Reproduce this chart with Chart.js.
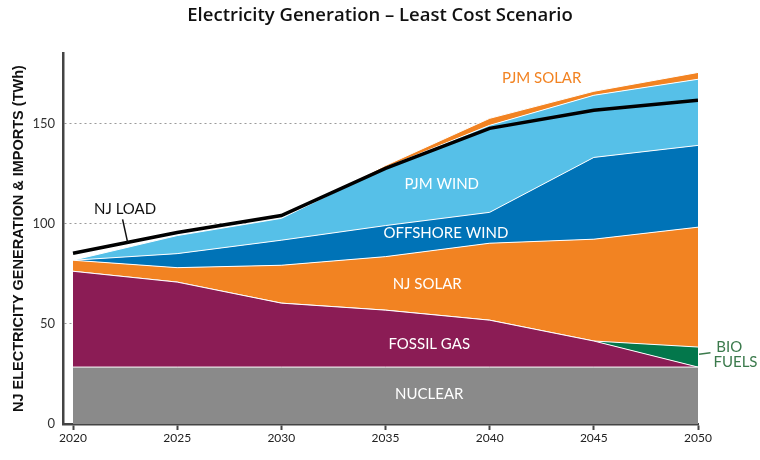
<!DOCTYPE html>
<html>
<head>
<meta charset="utf-8">
<script src="https://cdn.jsdelivr.net/npm/chart.js@4.4.1/dist/chart.umd.min.js"></script>
<style>
  html, body { margin: 0; padding: 0; background: #fff; }
  #wrap { width: 760px; height: 460px; position: relative; }
</style>
</head>
<body>
<div id="wrap"><canvas id="gen-chart"></canvas></div>
<script>
// Datos (TWh)
const years = [2020, 2025, 2030, 2035, 2040, 2045, 2050];
const yTicks = [0, 50, 100, 150];

const nuclear      = [28.4, 28.4, 28.4, 28.4, 28.4, 28.4, 28.4];
const fossilGas    = [47.8, 42.4, 31.9, 28.4, 23.4, 13.0, 0];
const bioFuels     = [0, 0, 0, 0, 0, 0, 10];
const njSolar      = [5.5, 7.2, 18.9, 26.7, 38.4, 50.8, 59.8];
const offshoreWind = [0, 7, 12.5, 15.5, 15.4, 40.8, 40.8];
const pjmWind      = [0, 9, 10.9, 29, 43.4, 31, 33];
const pjmSolar     = [0, 0, 0, 1, 3.5, 2, 3.4];
const njLoad       = [85.2, 95.5, 104, 127.5, 147.5, 156.5, 161.5];

// Etiquetas dentro del gráfico (en unidades de datos)
const areaLabels = [
    { text: 'NUCLEAR',       x: 2037.1, y: 15,    color: '#fff' },
    { text: 'FOSSIL GAS',    x: 2037.1, y: 40,    color: '#fff' },
    { text: 'NJ SOLAR',      x: 2037.0, y: 70,    color: '#fff' },
    { text: 'OFFSHORE WIND', x: 2037.9, y: 95,    color: '#fff' },
    { text: 'PJM WIND',      x: 2037.7, y: 119.5, color: '#fff' },
    { text: 'PJM SOLAR',     x: 2042.5, y: 172.5, color: '#f28322' },
    { text: 'NJ LOAD',       x: 2022.5, y: 107,   color: '#111' },
    { text: 'BIO',           x: 2051.5, y: 38.4,  color: '#3b7a4c' },
    { text: 'FUELS',         x: 2051.8, y: 31,    color: '#3b7a4c' }
];
const leaders = [
    { from: [2022.38, 102.1], to: [2022.62, 90.7], color: '#111', width: 1.5 },
    { from: [2050.05, 34.8],  to: [2050.6, 35.5],  color: '#3b7a4c', width: 1.5 }
];

const toPoints = arr => arr.map((v, i) => ({ x: years[i], y: v }));

function area(label, values, color, fill) {
    return {
        label: label,
        data: toPoints(values),
        backgroundColor: color,
        borderColor: '#fff',
        borderWidth: 1,
        fill: fill,
        pointRadius: 0,
        tension: 0,
        stack: 'gen'
    };
}

const labelsPlugin = {
    id: 'areaLabels',
    afterDatasetsDraw(chart) {
        const { ctx, scales: { x, y } } = chart;
        ctx.save();
        leaders.forEach(l => {
            ctx.strokeStyle = l.color;
            ctx.lineWidth = l.width;
            ctx.beginPath();
            ctx.moveTo(x.getPixelForValue(l.from[0]), y.getPixelForValue(l.from[1]));
            ctx.lineTo(x.getPixelForValue(l.to[0]), y.getPixelForValue(l.to[1]));
            ctx.stroke();
        });
        ctx.font = '15px Lato';
        ctx.textAlign = 'center';
        ctx.textBaseline = 'middle';
        areaLabels.forEach(l => {
            ctx.fillStyle = l.color;
            ctx.fillText(l.text, x.getPixelForValue(l.x), y.getPixelForValue(l.y));
        });
        ctx.restore();
    }
};

const ctx = document.getElementById('gen-chart').getContext('2d');
new Chart(ctx, {
    type: 'line',
    data: {
        datasets: [
            area('Nuclear', nuclear, '#8a8a8a', 'origin'),
            area('Fossil Gas', fossilGas, '#8b1c55', '-1'),
            area('Bio Fuels', bioFuels, '#03774b', '-1'),
            area('NJ Solar', njSolar, '#f28322', '-1'),
            area('Offshore Wind', offshoreWind, '#0073b7', '-1'),
            area('PJM Wind', pjmWind, '#56c0e8', '-1'),
            area('PJM Solar', pjmSolar, '#f28322', '-1'),
            {
                label: 'NJ Load',
                data: toPoints(njLoad),
                borderColor: '#000',
                borderWidth: 3.5,
                fill: false,
                pointRadius: 0,
                tension: 0,
                stack: 'load',
                order: -1
            }
        ]
    },
    options: {
        responsive: true,
        maintainAspectRatio: false,
        animation: false,
        layout: { padding: 0 },
        plugins: {
            legend: { display: false },
            tooltip: { enabled: false },
            title: {
                display: true,
                text: 'Electricity Generation \u2013 Least Cost Scenario',
                color: '#111',
                font: { family: 'Open Sans', size: 18.5, weight: '600' },
                padding: { top: 5, bottom: 26 }
            }
        },
        scales: {
            x: {
                type: 'linear',
                min: 2019.52,
                max: 2050,
                afterBuildTicks: scale => { scale.ticks = years.map(v => ({ value: v })); },
                afterFit: scale => { scale.height = 36; },
                border: { display: true, color: '#444', width: 2.5 },
                grid: { drawOnChartArea: false, drawTicks: true, tickLength: 6, tickColor: '#444', tickWidth: 2 },
                ticks: {
                    color: '#222',
                    padding: 1,
                    maxRotation: 0,
                    font: { family: 'Lato', size: 12 },
                    callback: v => String(v)
                }
            },
            y: {
                stacked: true,
                min: 0,
                max: 185,
                afterBuildTicks: scale => { scale.ticks = yTicks.map(v => ({ value: v })); },
                afterFit: scale => { scale.width = 63; },
                border: { display: true, color: '#444', width: 2.5, dash: [2, 3] },
                grid: {
                    drawTicks: false,
                    color: c => c.tick && c.tick.value === 0 ? 'rgba(0,0,0,0)' : '#9a9a9a',
                    lineWidth: 1
                },
                ticks: {
                    color: '#333',
                    padding: 8,
                    font: { family: 'Lato', size: 13 }
                },
                title: {
                    display: true,
                    text: 'NJ ELECTRICITY GENERATION & IMPORTS (TWh)',
                    color: '#111',
                    font: { family: 'Liberation Sans', size: 14.5, weight: 'bold' },
                    padding: { top: 10, bottom: 0 }
                }
            },
            // eje vacío a la derecha: reserva espacio para las etiquetas BIO FUELS
            yRight: {
                position: 'right',
                display: true,
                afterFit: scale => { scale.width = 62; },
                border: { display: false },
                grid: { drawOnChartArea: false, drawTicks: false },
                ticks: { display: false }
            }
        }
    },
    plugins: [labelsPlugin]
});
</script>
</body>
</html>
